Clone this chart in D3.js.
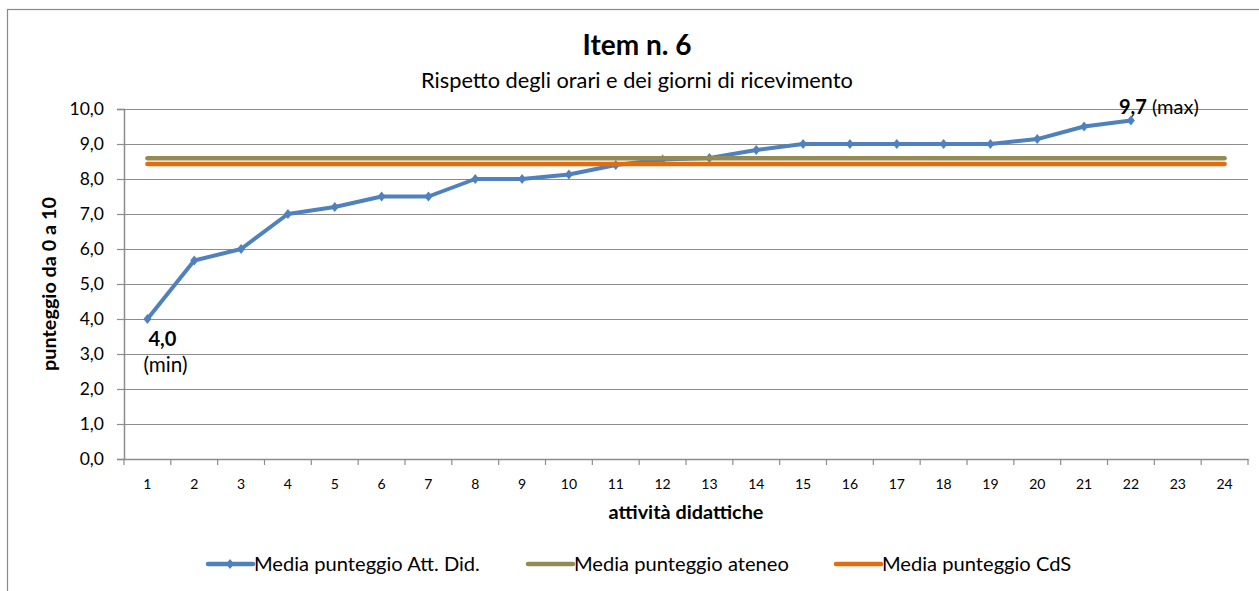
<!DOCTYPE html>
<html>
<head>
<meta charset="utf-8">
<script src="https://cdn.jsdelivr.net/npm/d3@7"></script>
<style>
  body { margin: 0; background: #fff; }
  text { font-family: Lato, "Open Sans", sans-serif; fill: #000; }
</style>
</head>
<body>
<div id="chart"></div>
<script>
// categories (attivita didattiche)
var categories = ["1","2","3","4","5","6","7","8","9","10","11","12","13","14","15","16","17","18","19","20","21","22","23","24"];
// Media punteggio Att. Did. (only 22 activities)
var mediaAttDid = [4.0, 5.67, 6.0, 7.0, 7.2, 7.5, 7.5, 8.0, 8.0, 8.13, 8.4, 8.56, 8.6, 8.83, 9.0, 9.0, 9.0, 9.0, 9.0, 9.14, 9.5, 9.67];
// Media punteggio ateneo
var mediaAteneo = [8.59, 8.59, 8.59, 8.59, 8.59, 8.59, 8.59, 8.59, 8.59, 8.59, 8.59, 8.59, 8.59, 8.59, 8.59, 8.59, 8.59, 8.59, 8.59, 8.59, 8.59, 8.59, 8.59, 8.59];
// Media punteggio CdS
var mediaCdS = [8.43, 8.43, 8.43, 8.43, 8.43, 8.43, 8.43, 8.43, 8.43, 8.43, 8.43, 8.43, 8.43, 8.43, 8.43, 8.43, 8.43, 8.43, 8.43, 8.43, 8.43, 8.43, 8.43, 8.43];
var yTicks = [0,1,2,3,4,5,6,7,8,9,10];
var seriesNames = ["Media punteggio Att. Did.", "Media punteggio ateneo", "Media punteggio CdS"];
var seriesColors = ["#4F81BD", "#948A54", "#E46C0A"];

var W = 1259, H = 591;
var margin = {top: 109, left: 124, right: 11, bottom: 132};
var width = W - margin.left - margin.right,
    height = H - margin.top - margin.bottom;

var svg = d3.select("#chart").append("svg")
    .attr("width", W)
    .attr("height", H);

// outer chart border
svg.append("rect")
    .attr("x", 7.5).attr("y", 9.5)
    .attr("width", W + 20).attr("height", H + 20)
    .attr("fill", "none")
    .attr("stroke", "#898989")
    .attr("stroke-width", 1.2);

var fmt = function(v) { return d3.format(".1f")(v).replace(".", ","); };

// shrink/grow font to a target width
function fit(sel, w) {
    var cur = sel.node().getComputedTextLength();
    var fs = parseFloat(sel.style("font-size"));
    sel.style("font-size", (fs * w / cur) + "px");
    return fs * w / cur;
}

var x = d3.scaleBand()
    .domain(categories)
    .range([0, width]);

var y = d3.scaleLinear()
    .domain([0, 10])
    .range([height, 0]);

var g = svg.append("g")
    .attr("transform", "translate(" + margin.left + "," + margin.top + ")");

// horizontal gridlines
g.append("g")
    .selectAll("line")
    .data(yTicks)
    .enter()
    .append("line")
    .attr("x1", 0).attr("x2", width)
    .attr("y1", function(d) { return Math.round(y(d)) + 0.5; })
    .attr("y2", function(d) { return Math.round(y(d)) + 0.5; })
    .attr("stroke", "#8c8c8c")
    .attr("stroke-width", 1.2);

// y axis
var yAxis = g.append("g")
    .call(d3.axisLeft(y).tickValues(yTicks).tickFormat(fmt).tickSize(7).tickPadding(13));
yAxis.select(".domain").attr("stroke", "#8c8c8c").attr("stroke-width", 1.5);
yAxis.selectAll(".tick line").attr("stroke", "#8c8c8c").attr("stroke-width", 1.2);
yAxis.selectAll(".tick text").style("font-size", "17.5px").attr("fill", "#000");

// x axis, ticks between categories
var xAxis = g.append("g")
    .attr("transform", "translate(0," + height + ")")
    .call(d3.axisBottom(x).tickSize(0).tickPadding(20));
xAxis.select(".domain").attr("stroke", "#8c8c8c").attr("stroke-width", 1.5);
xAxis.selectAll(".tick text").style("font-size", "14px").attr("fill", "#000");
g.append("g")
    .selectAll("line")
    .data(categories.concat(["end"]))
    .enter()
    .append("line")
    .attr("x1", function(d, i) { return i * x.step(); })
    .attr("x2", function(d, i) { return i * x.step(); })
    .attr("y1", height).attr("y2", height + 6)
    .attr("stroke", "#8c8c8c")
    .attr("stroke-width", 1.2);

var cx = function(d, i) { return x(categories[i]) + x.bandwidth() / 2; };
var line = d3.line()
    .x(cx)
    .y(function(d) { return y(d); });

// main series
g.append("path")
    .datum(mediaAttDid)
    .attr("d", line)
    .attr("fill", "none")
    .attr("stroke", seriesColors[0])
    .attr("stroke-width", 4)
    .attr("stroke-linejoin", "round");

var diamond = "M0,-5L4,0L0,5L-4,0Z";
g.selectAll(".marker")
    .data(mediaAttDid)
    .enter()
    .append("path")
    .attr("class", "marker")
    .attr("d", diamond)
    .attr("transform", function(d, i) { return "translate(" + cx(d, i) + "," + y(d) + ")"; })
    .attr("fill", seriesColors[0]);

// reference lines
[mediaAteneo, mediaCdS].forEach(function(s, k) {
    g.append("path")
        .datum(s)
        .attr("d", line)
        .attr("fill", "none")
        .attr("stroke", seriesColors[k + 1])
        .attr("stroke-width", 4.5)
        .attr("stroke-linecap", "round");
});

// min / max labels
var iMin = mediaAttDid.indexOf(d3.min(mediaAttDid));
var iMax = mediaAttDid.indexOf(d3.max(mediaAttDid));
var tMin = g.append("text")
    .attr("x", cx(0, iMin) + 1)
    .attr("y", y(mediaAttDid[iMin]) + 27)
    .style("font-size", "19px")
    .style("font-weight", "bold")
    .text(fmt(mediaAttDid[iMin]));
fit(tMin, 28);
var tMinLbl = g.append("text")
    .attr("x", cx(0, iMin) + 18)
    .attr("y", y(mediaAttDid[iMin]) + 53)
    .attr("text-anchor", "middle")
    .style("font-size", "19px")
    .text("(min)");
fit(tMinLbl, 44);
var tMax = g.append("text")
    .attr("x", cx(0, iMax) - 12)
    .attr("y", y(mediaAttDid[iMax]) - 7)
    .style("font-size", "19px");
tMax.append("tspan").style("font-weight", "bold").text(fmt(mediaAttDid[iMax]));
tMax.append("tspan").text(" (max)");
fit(tMax, 80);

// titles
var title = svg.append("text")
    .attr("x", 637).attr("y", 55)
    .attr("text-anchor", "middle")
    .style("font-size", "22px")
    .style("font-weight", "bold")
    .text("Item n. 6");
fit(title, 109);
var sub = svg.append("text")
    .attr("x", 637).attr("y", 88)
    .attr("text-anchor", "middle")
    .style("font-size", "17px")
    .text("Rispetto degli orari e dei giorni di ricevimento");
fit(sub, 432);

var xt = svg.append("text")
    .attr("x", margin.left + width / 2).attr("y", 519)
    .attr("text-anchor", "middle")
    .style("font-size", "15px")
    .style("font-weight", "bold")
    .text("attività didattiche");
fit(xt, 155);

var yt = svg.append("text")
    .attr("transform", "translate(56," + (margin.top + height / 2) + ") rotate(-90)")
    .attr("text-anchor", "middle")
    .style("font-size", "15px")
    .style("font-weight", "bold")
    .text("punteggio da 0 a 10");
fit(yt, 174);

// legend
var legendX = [208, 528, 836];
var legend = svg.append("g");
var legendSize = 16;
seriesNames.forEach(function(name, i) {
    var lg = legend.append("g").attr("transform", "translate(" + legendX[i] + ",564)");
    lg.append("line")
        .attr("x1", 0).attr("x2", 45)
        .attr("stroke", seriesColors[i])
        .attr("stroke-width", 4.5)
        .attr("stroke-linecap", "round");
    if (i === 0) {
        lg.append("path").attr("d", diamond).attr("transform", "translate(22,0)").attr("fill", seriesColors[i]);
    }
    var t = lg.append("text")
        .attr("x", 46).attr("y", 6.5)
        .style("font-size", legendSize + "px")
        .text(name);
    if (i === 0) legendSize = fit(t, 226);
    else t.style("font-size", legendSize + "px");
});
</script>
</body>
</html>
